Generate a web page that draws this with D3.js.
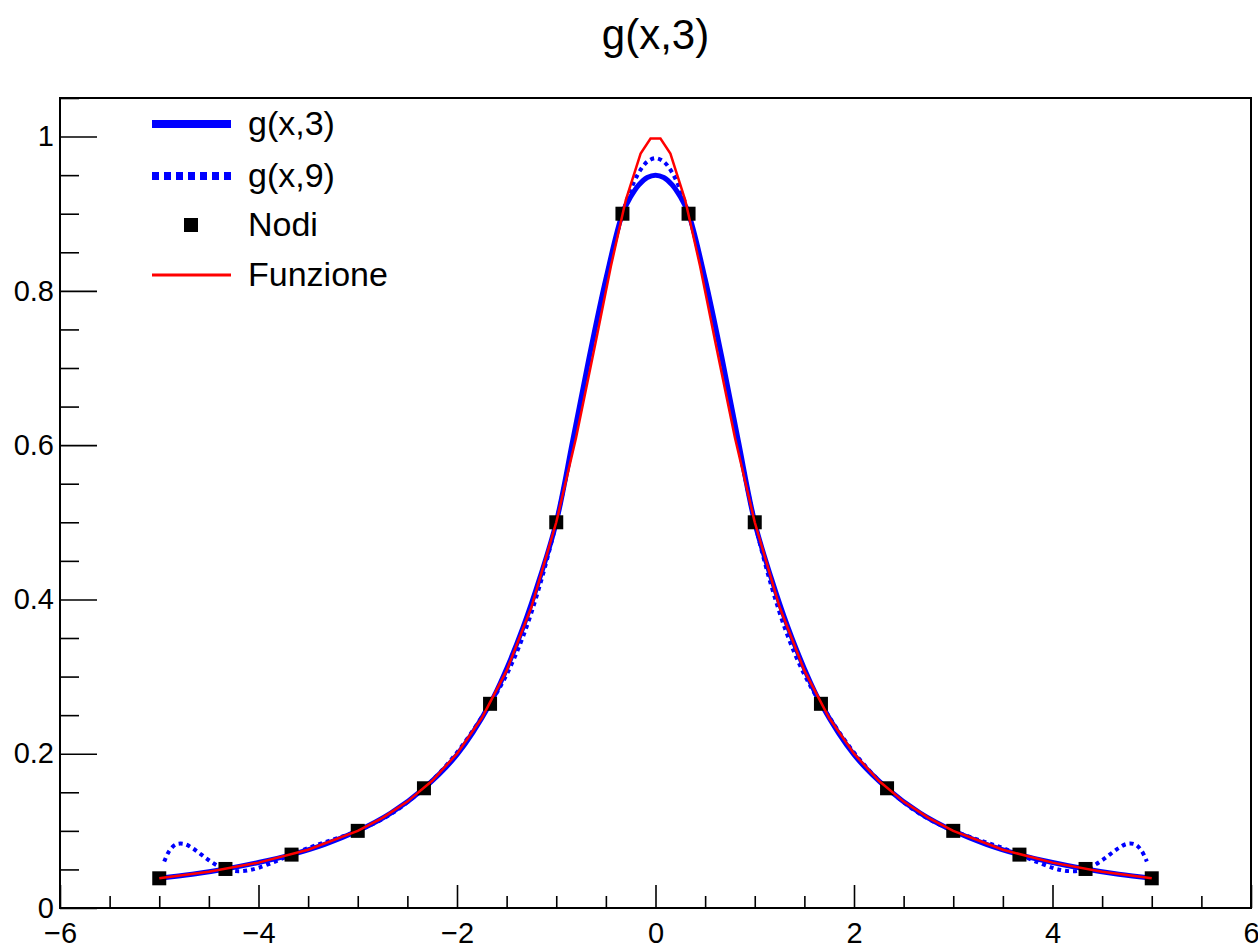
<!DOCTYPE html>
<html>
<head>
<meta charset="utf-8">
<style>
  html, body { margin: 0; padding: 0; background: #fff; }
  text { font-family: "Liberation Sans", Arial, Helvetica, sans-serif; fill: #000; }
  .axis path { display: none; }
  .axis line { stroke: #000; stroke-width: 1.6px; }
</style>
</head>
<body>
<svg id="chart" width="1258" height="945"></svg>
<script src="https://d3js.org/d3.v7.min.js"></script>
<script>
// nodes (Nodi)
var nodeX = [-5, -4.333, -3.667, -3, -2.333, -1.667, -1, -0.333, 0.333, 1, 1.667, 2.333, 3, 3.667, 4.333, 5];
var nodeY = [0.0385, 0.0506, 0.0692, 0.1, 0.1552, 0.2647, 0.5, 0.9, 0.9, 0.5, 0.2647, 0.1552, 0.1, 0.0692, 0.0506, 0.0385];

// Funzione (red)
var funcX = [-5, -4.5, -4, -3.5, -3, -2.75, -2.5, -2.25, -2, -1.75, -1.5, -1.25, -1, -0.8, -0.6, -0.45, -0.3, -0.15, -0.05,
             0.05, 0.15, 0.3, 0.45, 0.6, 0.8, 1, 1.25, 1.5, 1.75, 2, 2.25, 2.5, 2.75, 3, 3.5, 4, 4.5, 5];
var funcY = [0.0385, 0.0471, 0.0588, 0.0755, 0.1, 0.1168, 0.1379, 0.1649, 0.2, 0.2462, 0.3077, 0.3902, 0.5, 0.6098, 0.7353, 0.8316, 0.9174, 0.978, 0.9975,
             0.9975, 0.978, 0.9174, 0.8316, 0.7353, 0.6098, 0.5, 0.3902, 0.3077, 0.2462, 0.2, 0.1649, 0.1379, 0.1168, 0.1, 0.0755, 0.0588, 0.0471, 0.0385];

// g(x,3) (blue solid)
var g3X = [-5, -4.667, -4.333, -4, -3.667, -3.333, -3, -2.667, -2.333, -2, -1.667, -1.5, -1.333, -1.167, -1, -0.833, -0.667, -0.5, -0.333, -0.25, -0.167, -0.083, 0,
           0.083, 0.167, 0.25, 0.333, 0.5, 0.667, 0.833, 1, 1.167, 1.333, 1.5, 1.667, 2, 2.333, 2.667, 3, 3.333, 3.667, 4, 4.333, 4.667, 5];
var g3Y = [0.0385, 0.0437, 0.0506, 0.059, 0.0692, 0.0825, 0.1, 0.123, 0.1552, 0.1987, 0.2647, 0.3103, 0.3643, 0.4273, 0.5, 0.6066, 0.7148, 0.8155, 0.9, 0.9219, 0.9375, 0.9469, 0.95,
           0.9469, 0.9375, 0.9219, 0.9, 0.8155, 0.7148, 0.6066, 0.5, 0.4273, 0.3643, 0.3103, 0.2647, 0.1987, 0.1552, 0.123, 0.1, 0.0825, 0.0692, 0.059, 0.0506, 0.0437, 0.0385];

// g(x,9) (blue dotted)
var g9X = [-4.95, -4.9, -4.833, -4.75, -4.667, -4.583, -4.5, -4.417, -4.333, -4.25, -4.167, -4.083, -4, -3.833, -3.667, -3.5, -3.333, -3.167, -3,
           -2.667, -2.333, -2, -1.667, -1.5, -1.333, -1.167, -1, -0.833, -0.667, -0.5, -0.333, -0.25, -0.167, -0.083, 0,
           0.083, 0.167, 0.25, 0.333, 0.5, 0.667, 0.833, 1, 1.167, 1.333, 1.5, 1.667, 2, 2.333, 2.667,
           3, 3.167, 3.333, 3.5, 3.667, 3.833, 4, 4.083, 4.167, 4.25, 4.333, 4.417, 4.5, 4.583, 4.667, 4.75, 4.833, 4.9, 4.95];
var g9Y = [0.0602, 0.0737, 0.0824, 0.0831, 0.0777, 0.0699, 0.0619, 0.0552, 0.0506, 0.0481, 0.0478, 0.0493, 0.0521, 0.0602, 0.0692, 0.0777, 0.0851, 0.0922, 0.1,
           0.1217, 0.1552, 0.2015, 0.2647, 0.3026, 0.3524, 0.4177, 0.5, 0.6029, 0.7117, 0.8148, 0.9, 0.9308, 0.9535, 0.9674, 0.972,
           0.9674, 0.9535, 0.9308, 0.9, 0.8148, 0.7117, 0.6029, 0.5, 0.4177, 0.3524, 0.3026, 0.2647, 0.2015, 0.1552, 0.1217,
           0.1, 0.0922, 0.0851, 0.0777, 0.0692, 0.0602, 0.0521, 0.0493, 0.0478, 0.0481, 0.0506, 0.0552, 0.0619, 0.0699, 0.0777, 0.0831, 0.0824, 0.0737, 0.0602];

var xMajor = [-6, -4, -2, 0, 2, 4, 6];
var yMajor = [0, 0.2, 0.4, 0.6, 0.8, 1];
var legendLabels = ["g(x,3)", "g(x,9)", "Nodi", "Funzione"];

var svg = d3.select("#chart");
var frameL = 60, frameR = 1251, frameT = 98, frameB = 908;

var x = d3.scaleLinear().domain([-6, 6]).range([frameL, frameR]);
var y = d3.scaleLinear().domain([0, 1.05]).range([frameB, frameT]);

function pts(xs, ys) { return xs.map(function(v, i) { return [v, ys[i]]; }); }

// title
svg.append("text")
    .attr("x", (frameL + frameR) / 2)
    .attr("y", 49)
    .attr("text-anchor", "middle")
    .style("font-size", "42px")
    .text("g(x,3)");

// minor ticks
var xMinor = d3.range(-6, 6.01, 0.5).filter(function(d) { return xMajor.indexOf(d) < 0; });
var yMinor = d3.range(0, 1.051, 0.05).map(function(d) { return +d.toFixed(2); })
    .filter(function(d) { return Math.abs(d * 5 - Math.round(d * 5)) > 1e-6; });

svg.append("g").attr("class", "axis")
    .attr("transform", "translate(0," + frameB + ")")
    .call(d3.axisBottom(x).tickValues(xMinor).tickSize(-12).tickFormat(""));
svg.append("g").attr("class", "axis")
    .attr("transform", "translate(" + frameL + ",0)")
    .call(d3.axisLeft(y).tickValues(yMinor).tickSize(-19).tickFormat(""));

var xAxis = svg.append("g").attr("class", "axis")
    .attr("transform", "translate(0," + frameB + ")")
    .call(d3.axisBottom(x).tickValues(xMajor).tickSize(-23).tickPadding(14)
        .tickFormat(function(d) { return d < 0 ? "\u2212" + (-d) : String(d); }));
xAxis.selectAll("text").style("font-size", "29px");

var yAxis = svg.append("g").attr("class", "axis")
    .attr("transform", "translate(" + frameL + ",0)")
    .call(d3.axisLeft(y).tickValues(yMajor).tickSize(-37).tickPadding(6)
        .tickFormat(function(d) { return String(+d.toFixed(1)); }));
yAxis.selectAll("text").style("font-size", "29px");

// frame
svg.append("rect")
    .attr("x", frameL).attr("y", frameT)
    .attr("width", frameR - frameL).attr("height", frameB - frameT)
    .attr("fill", "none").attr("stroke", "#000").attr("stroke-width", 2);

var line = d3.line()
    .x(function(d) { return x(d[0]); })
    .y(function(d) { return y(d[1]); });
var smooth = d3.line()
    .x(function(d) { return x(d[0]); })
    .y(function(d) { return y(d[1]); })
    .curve(d3.curveCatmullRom);

svg.append("path")
    .datum(pts(g3X, g3Y))
    .attr("d", smooth)
    .attr("fill", "none").attr("stroke", "#0000ff").attr("stroke-width", 5);

svg.append("path")
    .datum(pts(g9X, g9Y))
    .attr("d", smooth)
    .attr("fill", "none").attr("stroke", "#0000ff").attr("stroke-width", 4)
    .attr("stroke-dasharray", "4,4");

svg.append("g").selectAll("rect")
    .data(pts(nodeX, nodeY))
    .enter().append("rect")
    .attr("x", function(d) { return x(d[0]) - 7; })
    .attr("y", function(d) { return y(d[1]) - 7; })
    .attr("width", 14).attr("height", 14)
    .attr("fill", "#000");

svg.append("path")
    .datum(pts(funcX, funcY))
    .attr("d", line)
    .attr("fill", "none").attr("stroke", "#ff0000").attr("stroke-width", 2.5);

// legend
var legY = [124, 176, 225, 275];
var leg = svg.append("g");
leg.append("line").attr("x1", 152).attr("x2", 231).attr("y1", legY[0]).attr("y2", legY[0])
    .attr("stroke", "#0000ff").attr("stroke-width", 8);
leg.append("line").attr("x1", 152).attr("x2", 231).attr("y1", legY[1]).attr("y2", legY[1])
    .attr("stroke", "#0000ff").attr("stroke-width", 8).attr("stroke-dasharray", "7,5");
leg.append("rect").attr("x", 184).attr("y", legY[2] - 7).attr("width", 14).attr("height", 14)
    .attr("fill", "#000");
leg.append("line").attr("x1", 152).attr("x2", 231).attr("y1", legY[3]).attr("y2", legY[3])
    .attr("stroke", "#ff0000").attr("stroke-width", 3);
leg.selectAll("text")
    .data(legendLabels)
    .enter().append("text")
    .attr("x", 248)
    .attr("y", function(d, i) { return legY[i] + 11; })
    .style("font-size", "34px")
    .text(function(d) { return d; });
</script>
</body>
</html>
